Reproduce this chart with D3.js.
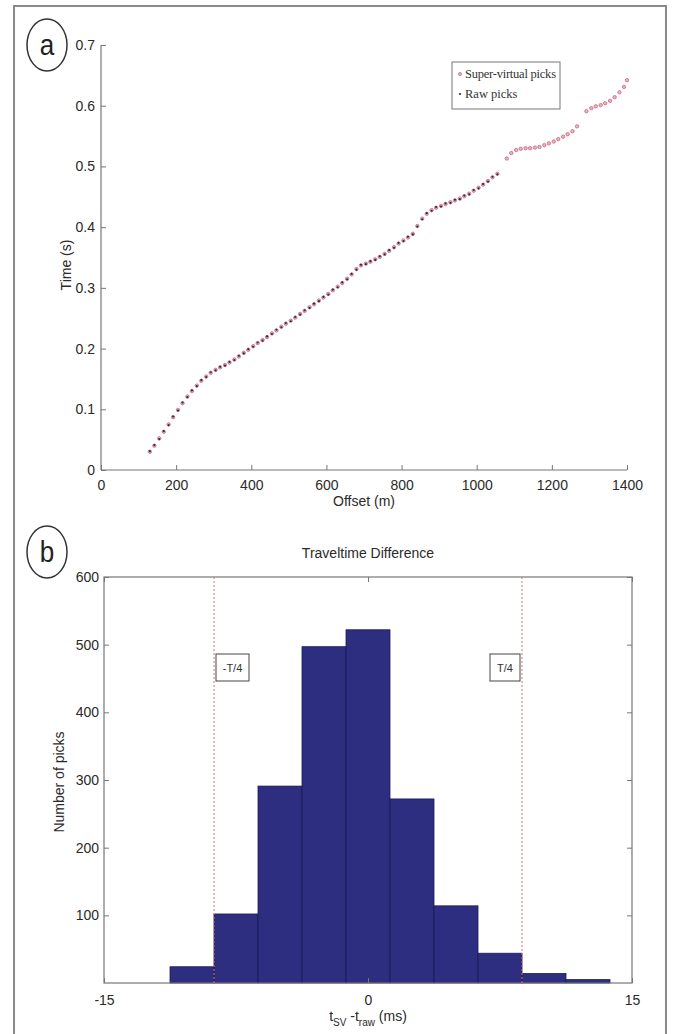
<!DOCTYPE html>
<html><head><meta charset="utf-8">
<script src="https://cdn.jsdelivr.net/npm/d3@7/dist/d3.min.js"></script>
<style>body{margin:0;background:#fff}</style>
</head><body>
<svg id="c" width="673" height="1034"></svg>
<script>
// ---------- Panel a data ----------
const svOffsets = [130,142,155,167,180,192,205,217,230,242,255,267,280,292,305,317,330,342,355,367,
380,392,405,417,430,442,455,467,480,492,505,517,530,542,555,567,580,592,605,617,
630,642,655,667,680,692,705,717,730,742,755,767,780,792,805,817,830,842,855,867,
880,892,905,917,930,942,955,967,980,992,1005,1017,1030,1042,1055,1080,1092,1105,1117,1130,
1142,1155,1167,1180,1192,1205,1217,1230,1242,1255,1267,1292,1305,1317,1330,1342,1355,1367,1380,1392,1400];
const svTimes = [0.030,0.040,0.052,0.063,0.075,0.087,0.099,0.110,0.121,0.130,0.139,0.147,0.154,0.160,0.165,0.169,0.173,0.177,0.182,0.187,
0.193,0.198,0.204,0.209,0.214,0.219,0.225,0.230,0.236,0.241,0.246,0.251,0.257,0.262,0.268,0.273,0.279,0.284,0.290,0.296,
0.302,0.308,0.315,0.322,0.331,0.337,0.340,0.343,0.347,0.351,0.356,0.361,0.367,0.373,0.378,0.383,0.389,0.402,0.414,0.422,
0.428,0.432,0.435,0.438,0.441,0.444,0.447,0.451,0.455,0.460,0.465,0.470,0.476,0.482,0.488,0.513,0.522,0.527,0.529,0.530,
0.530,0.531,0.532,0.535,0.538,0.541,0.545,0.549,0.553,0.558,0.566,0.591,0.596,0.599,0.601,0.604,0.608,0.614,0.622,0.631,0.642];
const rawOffsets = [130,142,155,167,180,192,205,217,230,242,255,267,280,292,305,317,330,342,355,367,
380,392,405,417,430,442,455,467,480,492,505,517,530,542,555,567,580,592,605,617,
630,642,655,667,680,692,705,717,730,742,755,767,780,792,805,817,830,842,855,867,
880,892,905,917,930,942,955,967,980,992,1005,1017,1030,1042,1055];
const rawTimes = [0.031,0.041,0.051,0.064,0.074,0.088,0.098,0.111,0.120,0.131,
0.138,0.148,0.153,0.161,0.164,0.170,0.172,0.178,0.181,0.188,
0.192,0.199,0.203,0.210,0.213,0.220,0.224,0.231,0.235,0.242,
0.245,0.252,0.256,0.263,0.267,0.274,0.278,0.285,0.289,0.297,
0.301,0.309,0.314,0.323,0.330,0.338,0.339,0.344,0.346,0.352,
0.355,0.362,0.366,0.374,0.377,0.384,0.388,0.401,0.413,0.423,
0.427,0.433,0.434,0.439,0.440,0.445,0.446,0.452,0.454,0.461,
0.464,0.471,0.475,0.483,0.487];
const xTicksA = [0,200,400,600,800,1000,1200,1400];
const yTicksA = [0,0.1,0.2,0.3,0.4,0.5,0.6,0.7];
const legendLabels = ["Super-virtual picks","Raw picks"];

// ---------- Panel b data ----------
const binCenters = [-10,-7.5,-5,-2.5,0,2.5,5,7.5,10,12.5];
const binCounts = [24,102,291,497,522,272,114,44,14,5];
const binWidth = 2.5;
const quarterPeriod = 8.75;
const yTicksB = [100,200,300,400,500,600];
const xTicksB = [-15,0,15];
const markerLabels = ["-T/4","T/4"];

const svg = d3.select("#c");
const FONT = "Liberation Sans, Arial, sans-serif";
const axisCol = "#777";
const txtCol = "#2a2a2a";
const svFill = "#eab3c0", svStroke = "#cf7088", rawFill = "#2e2e48";

// outer frame
svg.append("rect").attr("x",14).attr("y",6).attr("width",652).attr("height",1040)
  .attr("fill","none").attr("stroke","#8a8a8a").attr("stroke-width",2);

// panel labels
function panelLabel(cx, cy, t){
  svg.append("ellipse").attr("cx",cx).attr("cy",cy).attr("rx",20).attr("ry",26)
    .attr("fill","none").attr("stroke","#333").attr("stroke-width",1.5);
  svg.append("text").attr("x",cx).attr("y",cy+10).attr("text-anchor","middle")
    .attr("font-family",FONT).attr("font-size",29).attr("fill","#222")
    .attr("transform",`translate(${cx},${cy}) scale(0.9,1) translate(${-cx},${-cy})`).text(t);
}
panelLabel(47,45,"a");
panelLabel(47,552,"b");

// ---------- Panel a ----------
const xA = d3.scaleLinear().domain([0,1400]).range([101,627]);
const yA = d3.scaleLinear().domain([0,0.7]).range([470,45]);
const gA = svg.append("g");
gA.append("line").attr("x1",xA(0)).attr("x2",xA(0)).attr("y1",yA(0.7)).attr("y2",yA(0)).attr("stroke",axisCol).attr("stroke-width",1.2);
gA.append("line").attr("x1",xA(0)).attr("x2",xA(1400)).attr("y1",yA(0)).attr("y2",yA(0)).attr("stroke",axisCol).attr("stroke-width",1.2);
const axA_x = d3.axisBottom(xA).tickValues(xTicksA).tickSize(-5).tickPadding(10).tickFormat(d=>String(d));
const axA_y = d3.axisLeft(yA).tickValues(yTicksA).tickSize(-5).tickPadding(6).tickFormat(d=> d===0?"0":d.toFixed(1));
const gx = gA.append("g").attr("transform",`translate(0,${yA(0)})`).call(axA_x);
const gy = gA.append("g").attr("transform",`translate(${xA(0)},0)`).call(axA_y);
[gx,gy].forEach(g=>{
  g.select(".domain").remove();
  g.selectAll(".tick line").attr("stroke",axisCol);
  g.selectAll("text").attr("font-family",FONT).attr("font-size",14).attr("fill",txtCol);
});
gA.append("text").attr("x",364).attr("y",506).attr("text-anchor","middle")
  .attr("font-family",FONT).attr("font-size",14).attr("fill",txtCol).text("Offset (m)");
gA.append("text").attr("transform","translate(71,265) rotate(-90)").attr("text-anchor","middle")
  .attr("font-family",FONT).attr("font-size",14).attr("fill",txtCol).text("Time (s)");

// scatter
const svPts = svOffsets.map((o,i)=>({o, t: svTimes[i]}));
const rawPts = rawOffsets.map((o,i)=>({o, t: rawTimes[i]}));
gA.selectAll("circle.sv").data(svPts).enter().append("circle").attr("class","sv")
  .attr("cx",d=>xA(d.o)).attr("cy",d=>yA(d.t)).attr("r",1.7)
  .attr("fill",svFill).attr("stroke",svStroke).attr("stroke-width",0.9);
gA.selectAll("circle.raw").data(rawPts).enter().append("circle").attr("class","raw")
  .attr("cx",d=>xA(d.o)).attr("cy",d=>yA(d.t)).attr("r",1.1)
  .attr("fill",rawFill);

// legend
const lg = gA.append("g");
lg.append("rect").attr("x",452).attr("y",62).attr("width",108).attr("height",47)
  .attr("fill","#fff").attr("stroke","#777").attr("stroke-width",1);
legendLabels.forEach((l,i)=>{
  const yy = 78 + i*20;
  if(i===0){
    lg.append("circle").attr("cx",460).attr("cy",yy-4).attr("r",1.6)
      .attr("fill",svFill).attr("stroke",svStroke).attr("stroke-width",0.8);
  } else {
    lg.append("circle").attr("cx",460).attr("cy",yy-4).attr("r",1.1).attr("fill",rawFill);
  }
  lg.append("text").attr("x",465).attr("y",yy).attr("font-family","Liberation Serif, Times New Roman, serif")
    .attr("font-size",12.5).attr("fill","#333").attr("textLength", i===0?91:null).text(l);
});

// ---------- Panel b ----------
const xB = d3.scaleLinear().domain([-15,15]).range([104,632]);
const yB = d3.scaleLinear().domain([0,600]).range([983,577]);
const gB = svg.append("g");
gB.append("text").attr("x",368).attr("y",558).attr("text-anchor","middle")
  .attr("font-family",FONT).attr("font-size",14).attr("fill",txtCol).text("Traveltime Difference");

gB.selectAll("rect.bar").data(binCenters.map((c,i)=>({c, n: binCounts[i]}))).enter()
  .append("rect").attr("class","bar")
  .attr("x",d=>xB(d.c-binWidth/2)).attr("width",d=>xB(d.c+binWidth/2)-xB(d.c-binWidth/2))
  .attr("y",d=>yB(d.n)).attr("height",d=>yB(0)-yB(d.n))
  .attr("fill","#2d2e80").attr("stroke","#1a1a55").attr("stroke-width",0.8);

gB.append("rect").attr("x",xB(-15)).attr("y",yB(600)).attr("width",xB(15)-xB(-15)).attr("height",yB(0)-yB(600))
  .attr("fill","none").attr("stroke",axisCol).attr("stroke-width",1.2);

const axB_x = d3.axisBottom(xB).tickValues(xTicksB).tickSize(-5).tickPadding(12).tickFormat(d=>String(d));
const axB_y = d3.axisLeft(yB).tickValues(yTicksB).tickSize(-5).tickPadding(5).tickFormat(d=>String(d));
const axB_r = d3.axisRight(yB).tickValues(yTicksB).tickSize(-5).tickFormat("");
const axB_t = d3.axisTop(xB).tickValues(xTicksB).tickSize(-5).tickFormat("");
const gbx = gB.append("g").attr("transform",`translate(0,${yB(0)})`).call(axB_x);
const gby = gB.append("g").attr("transform",`translate(${xB(-15)},0)`).call(axB_y);
const gbr = gB.append("g").attr("transform",`translate(${xB(15)},0)`).call(axB_r);
const gbt = gB.append("g").attr("transform",`translate(0,${yB(600)})`).call(axB_t);
[gbx,gby,gbr,gbt].forEach(g=>{
  g.select(".domain").remove();
  g.selectAll(".tick line").attr("stroke",axisCol);
  g.selectAll("text").attr("font-family",FONT).attr("font-size",14).attr("fill",txtCol);
});

[-quarterPeriod, quarterPeriod].forEach((v,i)=>{
  gB.append("line").attr("x1",xB(v)).attr("x2",xB(v)).attr("y1",yB(600)).attr("y2",yB(0))
    .attr("stroke","#e07070").attr("stroke-width",1).attr("stroke-dasharray","2,2");
  const bw = i===0?33:30;
  const bx = i===0? xB(v)+2 : xB(v)-bw-2;
  gB.append("rect").attr("x",bx).attr("y",654).attr("width",bw).attr("height",27)
    .attr("fill","#fff").attr("stroke","#444").attr("stroke-width",1);
  gB.append("text").attr("x",bx+bw/2).attr("y",672).attr("text-anchor","middle")
    .attr("font-family",FONT).attr("font-size",11).attr("fill","#333").text(markerLabels[i]);
});

gB.append("text").attr("transform","translate(64,782) rotate(-90)").attr("text-anchor","middle")
  .attr("font-family",FONT).attr("font-size",14).attr("fill",txtCol).text("Number of picks");
const xl = gB.append("text").attr("x",368).attr("y",1021).attr("text-anchor","middle")
  .attr("font-family",FONT).attr("font-size",14).attr("fill",txtCol);
xl.append("tspan").text("t");
xl.append("tspan").attr("font-size",10).attr("dy",5).text("SV");
xl.append("tspan").attr("dy",-5).text(" -t");
xl.append("tspan").attr("font-size",10).attr("dy",5).text("raw");
xl.append("tspan").attr("dy",-5).text(" (ms)");
</script>
</body></html>
